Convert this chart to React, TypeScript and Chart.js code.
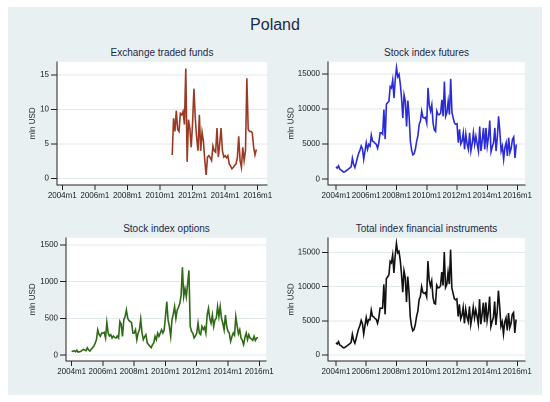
import React, { useEffect, useRef } from 'react';
import { Chart, registerables } from 'chart.js';

Chart.register(...registerables);

// ---------- data ----------
const xTickValues = [0, 24, 48, 72, 96, 120, 144];
const xTickLabels = ['2004m1', '2006m1', '2008m1', '2010m1', '2012m1', '2014m1', '2016m1'];

// monthly, 2004m1 .. 2015m12
const futures = [
  1750, 1560, 1890, 1415, 1300, 1150, 1000, 1050, 1180, 1300, 1450, 1600,
  1750, 2970, 2100, 1650, 2300, 3070, 3700, 4100, 4720, 4300, 2830, 4000,
  5190, 4250, 4950, 4700, 6270, 5400, 5300, 5100, 4950, 4400, 5190, 6600,
  6600, 6400, 9900, 5700, 10700, 10900, 11100, 13200, 13000, 14150, 11550, 14200,
  15900, 14600, 14950, 13600, 11550, 8700, 12000, 11100, 7500, 11200, 9000, 5400,
  4100, 3450, 3600, 4300, 5400, 6200, 7800, 8300, 9700, 8800, 8700, 8800,
  8000, 13000, 10500, 9700, 10600, 8000, 7000, 6800, 9700, 9200, 9200, 9400,
  11300, 8960, 13900, 8960, 9500, 11100, 9200, 14300, 9500, 8700, 8000, 7800,
  7900, 5200, 7100, 5000, 5400, 6600, 4250, 6400, 5000, 4250, 6600, 4000,
  5000, 6600, 4950, 6100, 5000, 4000, 7500, 4000, 5500, 7300, 4250, 7300,
  4700, 6000, 8350, 3900, 4600, 5200, 7300, 4000, 6000, 8960, 6800, 4000,
  4700, 2830, 4500, 5200, 3300, 5900, 3770, 4400, 5660, 6000, 3000, 4950,
];

const indexOptions = [
  54, 50, 60, 45, 67, 40, 45, 50, 65, 76, 70, 60,
  99, 70, 55, 80, 100, 121, 160, 210, 345, 280, 255, 300,
  300, 310, 233, 444, 300, 260, 278, 233, 260, 240, 233, 260,
  233, 457, 420, 255, 480, 525, 614, 502, 470, 457, 440, 300,
  300, 345, 210, 300, 345, 489, 300, 210, 250, 278, 166, 143,
  121, 100, 140, 166, 255, 210, 300, 255, 300, 345, 300, 340,
  525, 727, 480, 390, 255, 480, 560, 660, 500, 614, 650, 704,
  816, 1197, 800, 906, 794, 973, 1153, 390, 323, 300, 233, 260,
  300, 435, 300, 280, 390, 350, 380, 300, 547, 637, 500, 435,
  547, 390, 480, 502, 660, 525, 660, 500, 435, 345, 547, 390,
  323, 300, 188, 250, 300, 270, 525, 400, 290, 345, 233, 200,
  143, 240, 300, 210, 278, 230, 220, 200, 255, 200, 233, 240,
];

const totalIndex = [
  1804, 1610, 1950, 1460, 1367, 1190, 1045, 1100, 1245, 1376, 1520, 1660,
  1849, 3040, 2155, 1730, 2400, 3191, 3860, 4310, 5065, 4580, 3085, 4300,
  5490, 4560, 5183, 5144, 6570, 5660, 5578, 5333, 5210, 4640, 5423, 6860,
  6833, 6857, 10320, 5955, 11180, 11425, 11714, 13702, 13470, 14607, 11990, 14500,
  16300, 14945, 15160, 13900, 11895, 9189, 12300, 11310, 7750, 11478, 9166, 5543,
  4221, 3550, 3740, 4466, 5655, 6410, 8100, 8555, 10000, 9145, 9000, 9140,
  8525, 13727, 10980, 10090, 10855, 8480, 7560, 7460, 10200, 9817, 9859, 10111,
  12126, 10164, 15050, 9873, 10303, 12083, 10363, 15400, 9825, 9008, 8240, 8065,
  8208, 5643, 7409, 5285, 5794, 6959, 4634, 6700, 5552, 4890, 7100, 4435,
  5550, 6993, 5433, 6605, 5664, 4529, 8167, 4503, 5940, 7650, 4801, 7693,
  5026, 6303, 8541, 4152, 4902, 5472, 7827, 4402, 6292, 9400, 7039, 4203,
  4845, 3074, 4803, 5414, 3592, 6137, 3997, 4607, 5922, 6207, 3236, 5194,
];

// ETF series starts 2010m10 (month index 81)
const etfStartIndex = 81;
const etf = [
  3.4, 8.7, 6.8, 9.8, 7.1, 6.8, 9.4, 9.2, 9.7, 7.8, 15.9, 2.4,
  8.5, 7.2, 4.5, 8.0, 13.0, 8.7, 5.9, 4.0, 9.2, 4.0, 6.7, 5.4,
  2.6, 0.5, 3.1, 3.3, 3.0, 2.6, 4.7, 4.0, 3.8, 7.3, 3.1, 5.0,
  7.3, 4.0, 3.1, 3.3, 3.0, 3.3, 2.1, 1.8, 1.4, 1.6, 1.9, 2.1,
  3.0, 6.1, 2.6, 1.6, 4.5, 2.6, 4.0, 14.5, 7.1, 6.8, 6.8, 6.6,
  4.5, 3.4, 4.2,
];

const etfTicks = [0, 5, 10, 15];
const futuresTicks = [0, 5000, 10000, 15000];
const optionsTicks = [0, 500, 1000, 1500];
const totalTicks = [0, 5000, 10000, 15000];

// ---------- styling ----------
const FONT = '"Liberation Sans", Arial, Helvetica, sans-serif';
const TITLE_COLOR = '#1c2a48';
const AXIS_COLOR = '#222222';
const GRID_COLOR = '#e2eaee';
const BG = '#e8f0f2';

type PanelCfg = {
  title: string;
  values: number[];
  start: number;
  color: string;
  yTicks: number[];
  yMin: number; yMax: number;
  xMin: number; xMax: number;
  area: { L: number; T: number; R: number; B: number };
  canvas: { x: number; y: number; w: number; h: number };
  yTitleX: number;
  titleY: number;
};

const panels: PanelCfg[] = [
  {
    title: 'Exchange traded funds', values: etf, start: etfStartIndex, color: '#9a3a24',
    yTicks: etfTicks, yMin: -0.95, yMax: 16.88, xMin: -3.9, xMax: 150.85,
    area: { L: 57, T: 59, R: 267, B: 185 }, canvas: { x: 10, y: 55, w: 265, h: 152 },
    yTitleX: 33, titleY: 53,
  },
  {
    title: 'Stock index futures', values: futures, start: 0, color: '#2b2bd9',
    yTicks: futuresTicks, yMin: -843, yMax: 16730, xMin: -6.35, xMax: 149.95,
    area: { L: 328, T: 60, R: 525, B: 185 }, canvas: { x: 275, y: 55, w: 265, h: 152 },
    yTitleX: 291.5, titleY: 53,
  },
  {
    title: 'Stock index options', values: indexOptions, start: 0, color: '#2f6a14',
    yTicks: optionsTicks, yMin: -80.6, yMax: 1598, xMin: -4.36, xMax: 149.35,
    area: { L: 66, T: 236, R: 267, B: 361 }, canvas: { x: 10, y: 231, w: 265, h: 152 },
    yTitleX: 33, titleY: 229,
  },
  {
    title: 'Total index financial instruments', values: totalIndex, start: 0, color: '#111111',
    yTicks: totalTicks, yMin: -871, yMax: 17134, xMin: -6.35, xMax: 150.1,
    area: { L: 328, T: 237, R: 525, B: 361 }, canvas: { x: 275, y: 231, w: 265, h: 152 },
    yTitleX: 291.5, titleY: 229,
  },
];

const whitePlot = {
  id: 'whitePlot',
  beforeDraw(chart: any) {
    const { ctx, chartArea } = chart;
    if (!chartArea) return;
    ctx.save();
    ctx.fillStyle = '#ffffff';
    ctx.fillRect(chartArea.left, chartArea.top, chartArea.right - chartArea.left, chartArea.bottom - chartArea.top);
    ctx.restore();
  },
};

function Panel({ cfg }: { cfg: PanelCfg }) {
  const ref = useRef<HTMLCanvasElement>(null);
  useEffect(() => {
    const { area, canvas } = cfg;
    const yAxisWidth = area.L - canvas.x;
    const xAxisHeight = canvas.y + canvas.h - area.B;
    const points = cfg.values.map((v, i) => ({ x: cfg.start + i, y: v }));
    const titleFontSize = 8;
    const titlePad = cfg.yTitleX - canvas.x - (titleFontSize * 1.2) / 2;
    const chart = new Chart(ref.current as HTMLCanvasElement, {
      type: 'line',
      data: {
        datasets: [{
          data: points,
          borderColor: cfg.color,
          borderWidth: 1.6,
          pointRadius: 0,
          tension: 0,
          fill: false,
        }],
      },
      options: {
        animation: false,
        responsive: false,
        devicePixelRatio: 2,
        layout: {
          padding: { left: 0, top: area.T - canvas.y, right: canvas.x + canvas.w - area.R, bottom: 0 },
        },
        plugins: { legend: { display: false }, tooltip: { enabled: false }, title: { display: false } },
        scales: {
          x: {
            type: 'linear',
            min: cfg.xMin,
            max: cfg.xMax,
            afterFit: (s: any) => { s.height = xAxisHeight; },
            afterBuildTicks: (s: any) => { s.ticks = xTickValues.map((v) => ({ value: v })); },
            ticks: {
              autoSkip: false,
              maxRotation: 0,
              minRotation: 0,
              padding: 1,
              color: AXIS_COLOR,
              font: { family: FONT, size: 8 },
              callback: (_v: any, i: number) => xTickLabels[i],
            },
            grid: { drawOnChartArea: false, drawTicks: true, tickLength: 5, tickColor: AXIS_COLOR, tickWidth: 1 },
            border: { display: true, color: AXIS_COLOR, width: 1 },
          },
          y: {
            type: 'linear',
            min: cfg.yMin,
            max: cfg.yMax,
            afterFit: (s: any) => { s.width = yAxisWidth; },
            afterBuildTicks: (s: any) => { s.ticks = cfg.yTicks.map((v) => ({ value: v })); },
            ticks: {
              padding: 2,
              color: AXIS_COLOR,
              font: { family: FONT, size: 8 },
              callback: (v: any) => String(v),
            },
            grid: { color: GRID_COLOR, lineWidth: 1, drawTicks: true, tickLength: 6, tickColor: AXIS_COLOR, tickWidth: 1 },
            border: { display: true, color: AXIS_COLOR, width: 1 },
            title: {
              display: true,
              text: 'mln USD',
              color: AXIS_COLOR,
              font: { family: FONT, size: titleFontSize },
              padding: { top: titlePad, bottom: 0 },
            },
          },
        },
      },
      plugins: [whitePlot],
    } as any);
    return () => chart.destroy();
  }, [cfg]);

  const { area, canvas } = cfg;
  return (
    <>
      <div
        style={{
          position: 'absolute',
          left: area.L,
          width: area.R - area.L,
          top: cfg.titleY - 6,
          height: 12,
          lineHeight: '12px',
          textAlign: 'center',
          fontFamily: FONT,
          fontSize: 10,
          color: TITLE_COLOR,
          whiteSpace: 'nowrap',
        }}
      >
        {cfg.title}
      </div>
      <canvas
        ref={ref}
        width={canvas.w}
        height={canvas.h}
        style={{ position: 'absolute', left: canvas.x, top: canvas.y, width: canvas.w, height: canvas.h }}
      />
    </>
  );
}

export default function App() {
  return (
    <div style={{ position: 'absolute', left: 0, top: 0, width: 550, height: 402, background: '#ffffff', overflow: 'hidden' }}>
      <div style={{ position: 'absolute', left: 8, top: 7, width: 534, height: 388, background: BG }} />
      <div
        style={{
          position: 'absolute',
          left: 8,
          width: 534,
          top: 15,
          height: 20,
          lineHeight: '20px',
          textAlign: 'center',
          fontFamily: FONT,
          fontSize: 16,
          color: TITLE_COLOR,
        }}
      >
        Poland
      </div>
      {panels.map((p) => (
        <Panel key={p.title} cfg={p} />
      ))}
    </div>
  );
}
